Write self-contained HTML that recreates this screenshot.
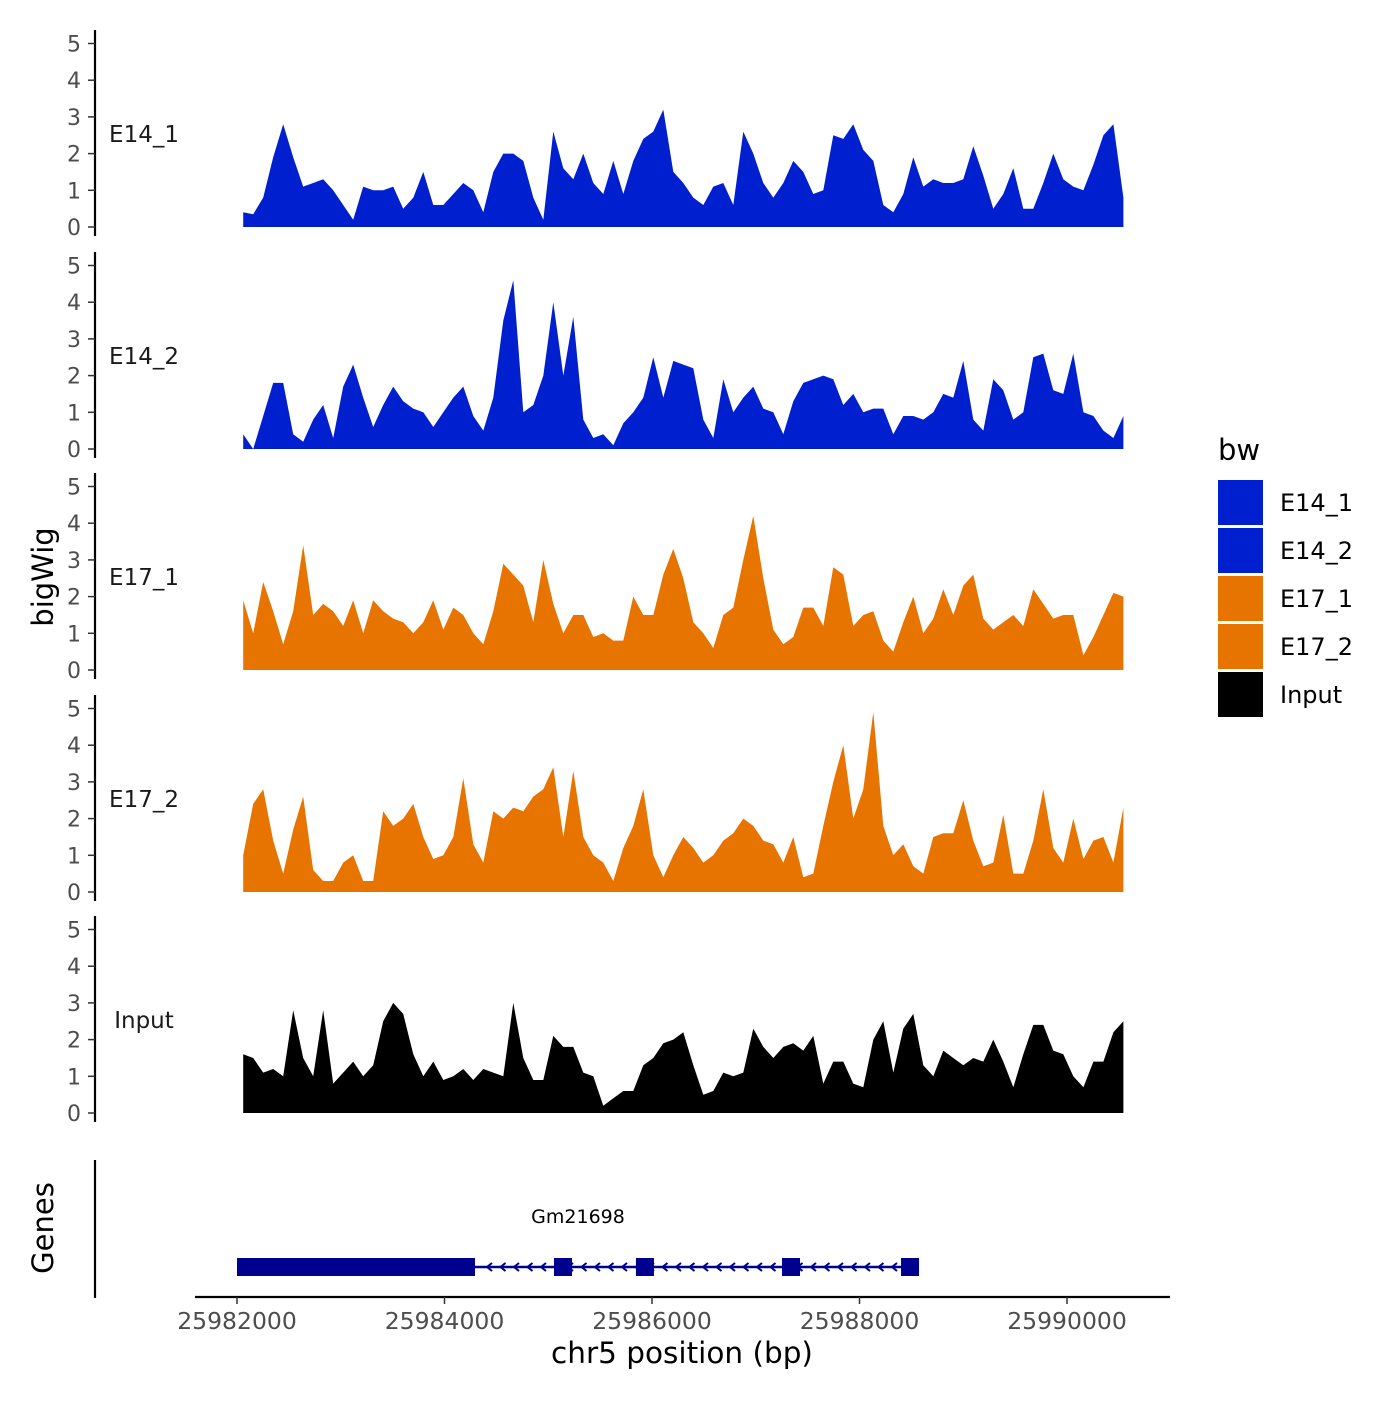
<!DOCTYPE html>
<html><head><meta charset="utf-8"><style>
body{margin:0;background:#fff}
svg text{font-family:"DejaVu Sans","Liberation Sans",sans-serif}
</style></head><body>
<svg id="c" width="1400" height="1400" viewBox="0 0 1400 1400" xmlns="http://www.w3.org/2000/svg">
<rect width="1400" height="1400" fill="#fff"/>
<g id="tracks"></g>
<g id="genes"></g>
<g id="axes"></g>
<g id="legend"></g>
</svg>
<script>
const trackNames = ["E14_1","E14_2","E17_1","E17_2","Input"];
const trackColors = ["#0020d0","#0020d0","#e87400","#e87400","#000000"];
const startBp = 25982060;
const stepBp = 96.4;
const e14_1 = [0.4,0.35,0.8,1.9,2.8,1.9,1.1,1.2,1.3,1.0,0.6,0.2,1.1,1.0,1.0,1.1,0.5,0.8,1.5,0.6,0.6,0.9,1.2,1.0,0.4,1.5,2.0,2.0,1.8,0.8,0.2,2.6,1.6,1.3,2.0,1.2,0.9,1.8,0.9,1.8,2.4,2.6,3.2,1.5,1.2,0.8,0.6,1.1,1.2,0.6,2.6,2.0,1.2,0.8,1.2,1.8,1.5,0.9,1.0,2.5,2.4,2.8,2.1,1.8,0.6,0.4,0.9,1.9,1.1,1.3,1.2,1.2,1.3,2.2,1.4,0.5,0.9,1.6,0.5,0.5,1.2,2.0,1.3,1.1,1.0,1.7,2.5,2.8,0.8];
const e14_2 = [0.4,0.0,0.9,1.8,1.8,0.4,0.2,0.8,1.2,0.3,1.7,2.3,1.4,0.6,1.2,1.7,1.3,1.1,1.0,0.6,1.0,1.4,1.7,0.9,0.5,1.4,3.5,4.6,1.0,1.2,2.0,4.0,2.0,3.6,0.8,0.3,0.4,0.1,0.7,1.0,1.4,2.5,1.4,2.4,2.3,2.2,0.8,0.3,1.9,1.0,1.4,1.7,1.1,1.0,0.4,1.3,1.8,1.9,2.0,1.9,1.2,1.5,1.0,1.1,1.1,0.4,0.9,0.9,0.8,1.0,1.5,1.4,2.4,0.8,0.5,1.9,1.6,0.8,1.0,2.5,2.6,1.6,1.5,2.6,1.0,0.9,0.5,0.3,0.9];
const e17_1 = [1.9,1.0,2.4,1.6,0.7,1.6,3.4,1.5,1.8,1.6,1.2,1.9,1.0,1.9,1.6,1.4,1.3,1.0,1.3,1.9,1.1,1.7,1.5,1.0,0.7,1.6,2.9,2.6,2.3,1.3,3.0,1.8,1.0,1.5,1.5,0.9,1.0,0.8,0.8,2.0,1.5,1.5,2.6,3.3,2.5,1.3,1.0,0.6,1.5,1.7,3.0,4.2,2.5,1.1,0.7,0.9,1.7,1.7,1.2,2.8,2.6,1.2,1.5,1.6,0.8,0.5,1.3,2.0,1.0,1.4,2.2,1.5,2.3,2.6,1.4,1.1,1.3,1.5,1.2,2.2,1.8,1.4,1.5,1.5,0.4,0.9,1.5,2.1,2.0];
const e17_2 = [1.0,2.4,2.8,1.4,0.5,1.7,2.6,0.6,0.3,0.3,0.8,1.0,0.3,0.3,2.2,1.8,2.0,2.4,1.5,0.9,1.0,1.5,3.1,1.3,0.8,2.2,2.0,2.3,2.2,2.6,2.8,3.4,1.5,3.3,1.5,1.0,0.8,0.3,1.2,1.8,2.8,1.0,0.4,1.0,1.5,1.2,0.8,1.0,1.4,1.6,2.0,1.8,1.4,1.3,0.8,1.5,0.4,0.5,1.8,3.0,4.0,2.0,2.8,4.9,1.8,1.0,1.3,0.7,0.5,1.5,1.6,1.6,2.5,1.4,0.7,0.8,2.1,0.5,0.5,1.4,2.8,1.2,0.8,2.0,0.9,1.4,1.5,0.8,2.3];
const input = [1.6,1.5,1.1,1.2,1.0,2.8,1.5,1.0,2.8,0.8,1.1,1.4,1.0,1.3,2.5,3.0,2.7,1.6,1.0,1.4,0.9,1.0,1.2,0.9,1.2,1.1,1.0,3.0,1.5,0.9,0.9,2.1,1.8,1.8,1.1,1.0,0.2,0.4,0.6,0.6,1.3,1.5,1.9,2.0,2.2,1.3,0.5,0.6,1.1,1.0,1.1,2.3,1.8,1.5,1.8,1.9,1.7,2.1,0.8,1.4,1.4,0.8,0.7,2.0,2.5,1.1,2.3,2.7,1.3,1.0,1.7,1.5,1.3,1.5,1.4,2.0,1.4,0.7,1.6,2.4,2.4,1.7,1.6,1.0,0.7,1.4,1.4,2.2,2.5];
const yTicks = [0,1,2,3,4,5];
const xTicks = [25982000,25984000,25986000,25988000,25990000];
const geneName = "Gm21698";
const geneStart = 25982000, geneEnd = 25988560;
const utrBlock = [25982000, 25984294];
const exonCenters = [25985142, 25985932, 25987340, 25988487];

const allData = [e14_1,e14_2,e17_1,e17_2,input];
const NS="http://www.w3.org/2000/svg";
function xs(bp){return 237 + (bp-25982000)*0.10375;}
const zeroY=[227,449,670,892,1113];
const unit=36.7;
function ys(i,v){return zeroY[i]-v*unit;}
function mk(tag,attrs,parent,text){const e=document.createElementNS(NS,tag);for(const k in attrs)e.setAttribute(k,attrs[k]);if(text!==undefined)e.textContent=text;parent.appendChild(e);return e;}
const T=document.getElementById('tracks'),A=document.getElementById('axes'),G=document.getElementById('genes'),L=document.getElementById('legend');

allData.forEach((d,i)=>{
  let p='M'+xs(startBp).toFixed(1)+','+zeroY[i];
  d.forEach((v,j)=>{p+=' L'+xs(startBp+j*stepBp).toFixed(1)+','+ys(i,v).toFixed(1);});
  p+=' L'+xs(startBp+(d.length-1)*stepBp).toFixed(1)+','+zeroY[i]+' Z';
  const a=mk('path',{d:p,fill:trackColors[i]},T);
  
  
  const ax=mk('line',{x1:95,x2:95,y1:zeroY[i]-197,y2:zeroY[i]+9,stroke:'#000','stroke-width':2.2},A);
  
  
  yTicks.forEach(t=>{
    const y=ys(i,t);
    const tk=mk('line',{x1:88,x2:95,y1:y,y2:y,stroke:'#333','stroke-width':1.5},A);
    
    
    const tl=mk('text',{x:81,y:y+8,'text-anchor':'end','font-size':22,fill:'#4d4d4d'},A,String(t));
    
    
  });
  const lb=mk('text',{x:144,y:zeroY[i]-85,'text-anchor':'middle','font-size':23,fill:'#1a1a1a'},A,trackNames[i]);
  
  
});

let t=mk('text',{x:0,y:0,transform:'translate(53,577) rotate(-90)','text-anchor':'middle','font-size':29,fill:'#000'},A,'bigWig');


t=mk('text',{x:0,y:0,transform:'translate(53,1228) rotate(-90)','text-anchor':'middle','font-size':29,fill:'#000'},A,'Genes');


t=mk('line',{x1:95,x2:95,y1:1160,y2:1298,stroke:'#000','stroke-width':2.2},A);


t=mk('line',{x1:195,x2:1170,y1:1297,y2:1297,stroke:'#000','stroke-width':2.2},A);


xTicks.forEach(v=>{
  const x=xs(v);
  const tk=mk('line',{x1:x,x2:x,y1:1297,y2:1304,stroke:'#333','stroke-width':1.5},A);
  
  
  const tl=mk('text',{x:x,y:1329,'text-anchor':'middle','font-size':23.5,fill:'#4d4d4d'},A,String(v));
  
  
});
t=mk('text',{x:682,y:1363,'text-anchor':'middle','font-size':29.5,fill:'#000'},A,'chr5 position (bp)');



const gc='#00008f';
t=mk('line',{x1:xs(geneStart),x2:xs(geneEnd),y1:1267,y2:1267,stroke:gc,'stroke-width':2.5},G);


for(let x=xs(utrBlock[1])+14;x<xs(geneEnd)-6;x+=13.5){
  const ar=mk('path',{d:`M${x+3},${1263} L${x-2},${1267} L${x+3},${1271}`,fill:'none',stroke:gc,'stroke-width':2},G);
  
  
}
t=mk('rect',{x:xs(utrBlock[0]),y:1258,width:xs(utrBlock[1])-xs(utrBlock[0]),height:18,fill:gc},G);


exonCenters.forEach(c=>{
  const r=mk('rect',{x:xs(c)-9,y:1258,width:18,height:18,fill:gc},G);
  
  
});
t=mk('text',{x:578,y:1223,'text-anchor':'middle','font-size':19,fill:'#000'},G,geneName);



t=mk('text',{x:1218,y:460,'font-size':29,fill:'#000'},L,'bw');


trackNames.forEach((n,i)=>{
  const y=480+i*48;
  const r=mk('rect',{x:1218,y:y,width:45,height:45,fill:trackColors[i]},L);
  
  
  const tx=mk('text',{x:1280,y:y+31,'font-size':24,fill:'#000'},L,n);
  
  
});
</script>
</body></html>
